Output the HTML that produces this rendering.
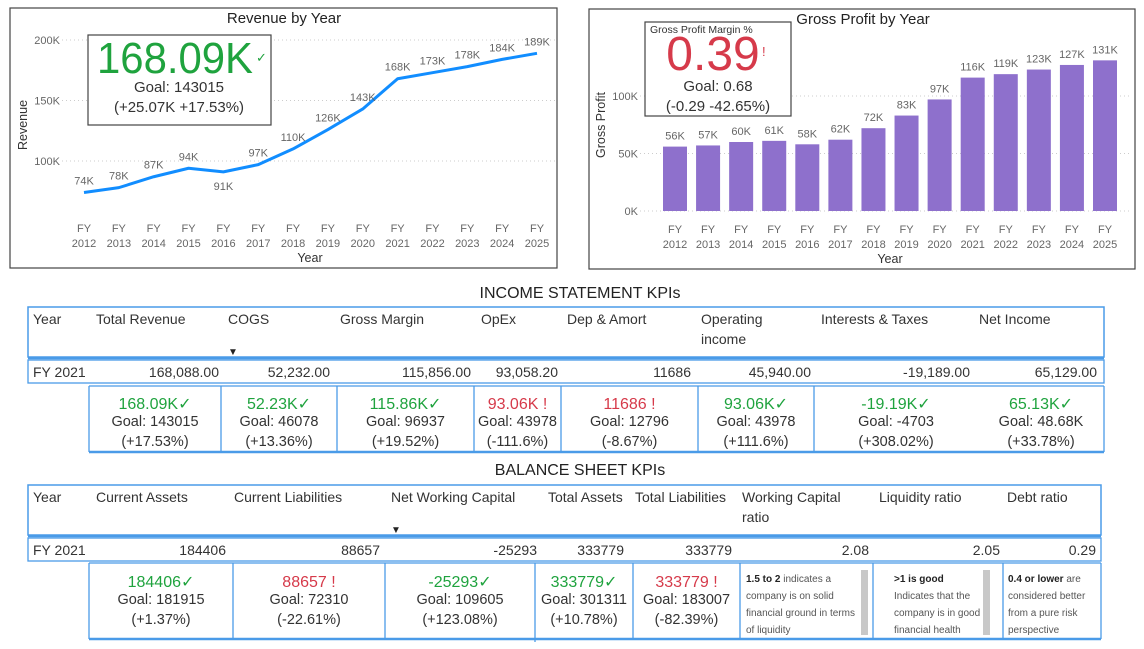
<!DOCTYPE html>
<html><head><meta charset="utf-8"><style>
html,body{margin:0;padding:0;background:#fff;width:1144px;height:649px;overflow:hidden}
svg{display:block;font-family:"Liberation Sans",sans-serif}
.ax{fill:#666;font-size:11px}
.hd{fill:#333;font-size:14px}
.cell{fill:#333;font-size:14px}
.g{fill:#1fa33e}.r{fill:#d63a4a}
.kg{fill:#333;font-size:15px}
.note{fill:#555;font-size:10px}
</style></head><body>
<svg id="s" width="1144" height="649" viewBox="0 0 1144 649">
<!-- Revenue panel -->
<rect x="10" y="8" width="547" height="260" fill="#fff" stroke="#444" stroke-width="1.2"/>
<text x="284" y="23" text-anchor="middle" font-size="15" fill="#222">Revenue by Year</text>
<text transform="translate(27,125) rotate(-90)" text-anchor="middle" font-size="12.5" fill="#333">Revenue</text>
<text x="310" y="262" text-anchor="middle" font-size="12.5" fill="#333">Year</text>
<g id="revGrid"></g><g id="revLine"></g>
<rect x="88" y="35" width="183" height="90" fill="#fff" stroke="#444" stroke-width="1.2"/>
<text x="97" y="73" font-size="44" textLength="156" lengthAdjust="spacingAndGlyphs" class="g">168.09K</text>
<text x="256" y="62" font-size="13" class="g">✓</text>
<text x="179" y="92" text-anchor="middle" class="kg">Goal: 143015</text>
<text x="179" y="112" text-anchor="middle" class="kg">(+25.07K +17.53%)</text>

<!-- Gross profit panel -->
<rect x="589" y="9" width="546" height="260" fill="#fff" stroke="#444" stroke-width="1.2"/>
<text x="863" y="24" text-anchor="middle" font-size="15" fill="#222">Gross Profit by Year</text>
<text transform="translate(605,125) rotate(-90)" text-anchor="middle" font-size="12.5" fill="#333">Gross Profit</text>
<text x="890" y="263" text-anchor="middle" font-size="12.5" fill="#333">Year</text>
<g id="gpGrid"></g><g id="gpBars"></g>
<rect x="645" y="22" width="146" height="94" fill="#fff" stroke="#444" stroke-width="1.2"/>
<text x="650" y="33" font-size="10.5" fill="#333">Gross Profit Margin %</text>
<text x="713" y="70" text-anchor="middle" font-size="48" class="r">0.39</text>
<text x="762" y="56" font-size="13" class="r">!</text>
<text x="718" y="91" text-anchor="middle" class="kg">Goal: 0.68</text>
<text x="718" y="111" text-anchor="middle" class="kg">(-0.29 -42.65%)</text>

<!-- Income statement -->
<text x="580" y="298" text-anchor="middle" font-size="16" fill="#222">INCOME STATEMENT KPIs</text>
<rect x="28" y="307" width="1076" height="50" fill="none" stroke="#4a9be8" stroke-width="1.5"/>
<line x1="28" y1="358" x2="1104" y2="358" stroke="#4a9be8" stroke-width="2.5"/>
<rect x="28" y="360" width="1076" height="23" fill="none" stroke="#4a9be8" stroke-width="1.3"/>
<g class="hd">
<text x="33" y="324">Year</text>
<text x="96" y="324">Total Revenue</text>
<text x="228" y="324">COGS</text>
<text x="340" y="324">Gross Margin</text>
<text x="481" y="324">OpEx</text>
<text x="567" y="324">Dep &amp; Amort</text>
<text x="701" y="324">Operating</text>
<text x="701" y="344">income</text>
<text x="821" y="324">Interests &amp; Taxes</text>
<text x="979" y="324">Net Income</text>
</g>
<text x="228" y="355" font-size="10" fill="#222">▼</text>
<text x="33" y="377" class="cell">FY 2021</text>
<g class="cell" text-anchor="end">
<text x="219" y="377">168,088.00</text>
<text x="330" y="377">52,232.00</text>
<text x="471" y="377">115,856.00</text>
<text x="558" y="377">93,058.20</text>
<text x="691" y="377">11686</text>
<text x="811" y="377">45,940.00</text>
<text x="970" y="377">-19,189.00</text>
<text x="1097" y="377">65,129.00</text>
</g>
<g stroke="#4a9be8" stroke-width="1.3">
<line x1="89" y1="386" x2="89" y2="452"/><line x1="221" y1="386" x2="221" y2="452"/><line x1="337" y1="386" x2="337" y2="452"/><line x1="474" y1="386" x2="474" y2="452"/><line x1="561" y1="386" x2="561" y2="452"/><line x1="698" y1="386" x2="698" y2="452"/><line x1="814" y1="386" x2="814" y2="452"/><line x1="1104" y1="386" x2="1104" y2="452"/>
<line x1="89" y1="386" x2="1104" y2="386"/>
<line x1="89" y1="452" x2="1104" y2="452" stroke-width="2.5"/>
</g>
<g id="incCards" text-anchor="middle"></g>

<!-- Balance sheet -->
<text x="580" y="475" text-anchor="middle" font-size="16" fill="#222">BALANCE SHEET KPIs</text>
<rect x="28" y="485" width="1073" height="50" fill="none" stroke="#4a9be8" stroke-width="1.5"/>
<line x1="28" y1="536" x2="1101" y2="536" stroke="#4a9be8" stroke-width="2.5"/>
<rect x="28" y="538" width="1073" height="23" fill="none" stroke="#4a9be8" stroke-width="1.3"/>
<g class="hd">
<text x="33" y="502">Year</text>
<text x="96" y="502">Current Assets</text>
<text x="234" y="502">Current Liabilities</text>
<text x="391" y="502">Net Working Capital</text>
<text x="548" y="502">Total Assets</text>
<text x="635" y="502">Total Liabilities</text>
<text x="742" y="502">Working Capital</text>
<text x="742" y="522">ratio</text>
<text x="879" y="502">Liquidity ratio</text>
<text x="1007" y="502">Debt ratio</text>
</g>
<text x="391" y="533" font-size="10" fill="#222">▼</text>
<text x="33" y="555" class="cell">FY 2021</text>
<g class="cell" text-anchor="end">
<text x="226" y="555">184406</text>
<text x="380" y="555">88657</text>
<text x="537" y="555">-25293</text>
<text x="624" y="555">333779</text>
<text x="732" y="555">333779</text>
<text x="869" y="555">2.08</text>
<text x="1000" y="555">2.05</text>
<text x="1096" y="555">0.29</text>
</g>
<g stroke="#4a9be8" stroke-width="1.3">
<line x1="89" y1="563" x2="89" y2="639"/><line x1="233" y1="563" x2="233" y2="639"/><line x1="385" y1="563" x2="385" y2="639"/><line x1="535" y1="563" x2="535" y2="642"/><line x1="633" y1="563" x2="633" y2="639"/><line x1="740" y1="563" x2="740" y2="639"/><line x1="873" y1="563" x2="873" y2="639"/><line x1="1003" y1="563" x2="1003" y2="639"/><line x1="1101" y1="563" x2="1101" y2="639"/>
<line x1="89" y1="563" x2="1101" y2="563"/>
<line x1="89" y1="639" x2="1101" y2="639" stroke-width="2.5"/>
</g>
<g id="bsCards" text-anchor="middle"></g>
<rect x="861" y="570" width="7" height="65" fill="#c8c8c8"/>
<rect x="983" y="570" width="7" height="65" fill="#c8c8c8"/>
<g class="note">
<text x="746" y="582"><tspan font-weight="bold" fill="#222">1.5 to 2</tspan> indicates a</text>
<text x="746" y="599">company is on solid</text>
<text x="746" y="616">financial ground in terms</text>
<text x="746" y="633">of liquidity</text>
<text x="894" y="582" font-weight="bold" fill="#222">&gt;1 is good</text>
<text x="894" y="599">Indicates that the</text>
<text x="894" y="616">company is in good</text>
<text x="894" y="633">financial health</text>
<text x="1008" y="582"><tspan font-weight="bold" fill="#222">0.4 or lower</tspan> are</text>
<text x="1008" y="599">considered better</text>
<text x="1008" y="616">from a pure risk</text>
<text x="1008" y="633">perspective</text>
</g>
</svg>
<script>
const years=["2012","2013","2014","2015","2016","2017","2018","2019","2020","2021","2022","2023","2024","2025"];
const revenueK=[74,78,87,94,91,97,110,126,143,168,173,178,184,189];
const revTicks=[100,150,200];
const grossProfitK=[56,57,60,61,58,62,72,83,97,116,119,123,127,131];
const gpTicks=[0,50,100];
const incValues=["168.09K","52.23K","115.86K","93.06K","11686","93.06K","-19.19K","65.13K"];
const incGood=[1,1,1,0,0,1,1,1];
const incGoals=["Goal: 143015","Goal: 46078","Goal: 96937","Goal: 43978","Goal: 12796","Goal: 43978","Goal: -4703","Goal: 48.68K"];
const incPcts=["(+17.53%)","(+13.36%)","(+19.52%)","(-111.6%)","(-8.67%)","(+111.6%)","(+308.02%)","(+33.78%)"];
const bsValues=["184406","88657","-25293","333779","333779"];
const bsGood=[1,0,1,1,0];
const bsGoals=["Goal: 181915","Goal: 72310","Goal: 109605","Goal: 301311","Goal: 183007"];
const bsPcts=["(+1.37%)","(-22.61%)","(+123.08%)","(+10.78%)","(-82.39%)"];
const NS="http://www.w3.org/2000/svg";
function mk(tag,attrs,parent,txt){const e=document.createElementNS(NS,tag);for(const k in attrs)e.setAttribute(k,attrs[k]);if(txt!=null)e.textContent=txt;parent.appendChild(e);return e;}
const rx=i=>84+i*(537-84)/(years.length-1);
const ry=v=>161-(v-100)*(60.5/50);
const rg=document.getElementById('revGrid'), rl=document.getElementById('revLine');
revTicks.forEach(t=>{
  const l=mk('line',{x1:62,x2:555,y1:ry(t),y2:ry(t),stroke:'#ccc','stroke-dasharray':'1,3'},rg);
  
  
  const tx=mk('text',{x:60,y:ry(t)+4,'text-anchor':'end',class:'ax'},rg,t+'K');
  
  
});
let d='';revenueK.forEach((v,i)=>{d+=(i?'L':'M')+rx(i)+' '+ry(v);});
const path=mk('path',{d:d,fill:'none',stroke:'#118dff','stroke-width':3,'stroke-linejoin':'round'},rl);


revenueK.forEach((v,i)=>{
  const below=i>0&&i<revenueK.length-1&&v<revenueK[i-1]&&v<revenueK[i+1];
  const t=mk('text',{x:rx(i),y:below?ry(v)+18:ry(v)-8,'text-anchor':'middle',class:'ax'},rl,v+'K');
  
  
  const a=mk('text',{x:rx(i),y:232,'text-anchor':'middle',class:'ax'},rl,'FY');
  
  
  const b=mk('text',{x:rx(i),y:247,'text-anchor':'middle',class:'ax'},rl,years[i]);
  
  
});
const gx=i=>675+i*(1105-675)/(years.length-1);
const gy=v=>211-v*(57.5/50);
const gg=document.getElementById('gpGrid'), gb=document.getElementById('gpBars');
gpTicks.forEach(t=>{
  const l=mk('line',{x1:640,x2:1130,y1:gy(t),y2:gy(t),stroke:'#ccc','stroke-dasharray':'1,3'},gg);
  
  
  const tx=mk('text',{x:638,y:gy(t)+4,'text-anchor':'end',class:'ax'},gg,t+'K');
  
  
});
grossProfitK.forEach((v,i)=>{
  const r=mk('rect',{x:gx(i)-12,y:gy(v),width:24,height:gy(0)-gy(v),fill:'#8e70cc'},gb);
  
  
  const t=mk('text',{x:gx(i),y:gy(v)-7,'text-anchor':'middle',class:'ax'},gb,v+'K');
  
  
  const a=mk('text',{x:gx(i),y:233,'text-anchor':'middle',class:'ax'},gb,'FY');
  
  
  const b=mk('text',{x:gx(i),y:248,'text-anchor':'middle',class:'ax'},gb,years[i]);
  
  
});
function cards(gid,bounds,vals,good,goals,pcts,y0){
  const g=document.getElementById(gid);
  vals.forEach((v,i)=>{
    const cx=(bounds[i]+bounds[i+1])/2;
    const t=mk('text',{x:cx,y:y0,'font-size':16,fill:good[i]?'#1fa33e':'#d63a4a'},g,v+(good[i]?'✓':' !'));
    
    
    const a=mk('text',{x:cx,y:y0+17,'font-size':14.5,fill:'#333'},g,goals[i]);
    
    
    const b=mk('text',{x:cx,y:y0+37,'font-size':14.5,fill:'#333'},g,pcts[i]);
    
    
  });
}
cards('incCards',[89,221,337,474,561,698,814,978,1104],incValues,incGood,incGoals,incPcts,409);
cards('bsCards',[89,233,385,535,633,740],bsValues,bsGood,bsGoals,bsPcts,587);
</script>
</body></html>
